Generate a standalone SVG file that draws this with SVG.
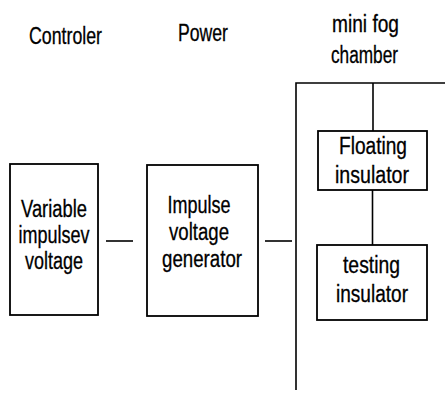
<svg xmlns="http://www.w3.org/2000/svg" width="445" height="394" viewBox="0 0 445 394">
<style>
text{font-family:"Liberation Sans",Arial,sans-serif;font-size:23px;fill:#000;text-anchor:middle;stroke:#000;stroke-width:0.3}
.box{fill:none;stroke:#000;stroke-width:1.8}
.ln{fill:none;stroke:#000;stroke-width:1.6}
</style>
<rect width="445" height="394" fill="#fff"/>
<g id="labels">
<text x="65.5" y="44" textLength="73" lengthAdjust="spacingAndGlyphs">Controler</text>
<text x="203" y="41" textLength="50" lengthAdjust="spacingAndGlyphs">Power</text>
<text x="365.5" y="32" textLength="67" lengthAdjust="spacingAndGlyphs">mini fog</text>
<text x="364.5" y="63" textLength="67" lengthAdjust="spacingAndGlyphs">chamber</text>
</g>
<g id="connectors">
<line class="ln" x1="106" y1="241" x2="133" y2="241"/>
<line class="ln" x1="265" y1="241" x2="292" y2="241"/>
<polyline class="ln" points="296,390 296,83 445,83"/>
<line class="ln" x1="373" y1="83" x2="373" y2="131"/>
<line class="ln" x1="372.5" y1="190" x2="372.5" y2="245"/>
</g>
<g id="controller">
<rect class="box" x="10" y="164" width="88" height="151"/>
<text x="54" y="217" textLength="66" lengthAdjust="spacingAndGlyphs">Variable</text>
<text x="54" y="243" textLength="71" lengthAdjust="spacingAndGlyphs">impulsev</text>
<text x="54" y="269" textLength="58" lengthAdjust="spacingAndGlyphs">voltage</text>
</g>
<g id="generator">
<rect class="box" x="147" y="165" width="111" height="151"/>
<text x="199" y="213" textLength="63" lengthAdjust="spacingAndGlyphs">Impulse</text>
<text x="199" y="240" textLength="60" lengthAdjust="spacingAndGlyphs">voltage</text>
<text x="202" y="267" textLength="80" lengthAdjust="spacingAndGlyphs">generator</text>
</g>
<g id="floating">
<rect class="box" x="318" y="131" width="109" height="59"/>
<text x="373" y="154" textLength="68" lengthAdjust="spacingAndGlyphs">Floating</text>
<text x="372" y="183" textLength="74" lengthAdjust="spacingAndGlyphs">insulator</text>
</g>
<g id="testing">
<rect class="box" x="317" y="245" width="110" height="75"/>
<text x="371.5" y="273" textLength="57" lengthAdjust="spacingAndGlyphs">testing</text>
<text x="372" y="302" textLength="72" lengthAdjust="spacingAndGlyphs">insulator</text>
</g>
</svg>
